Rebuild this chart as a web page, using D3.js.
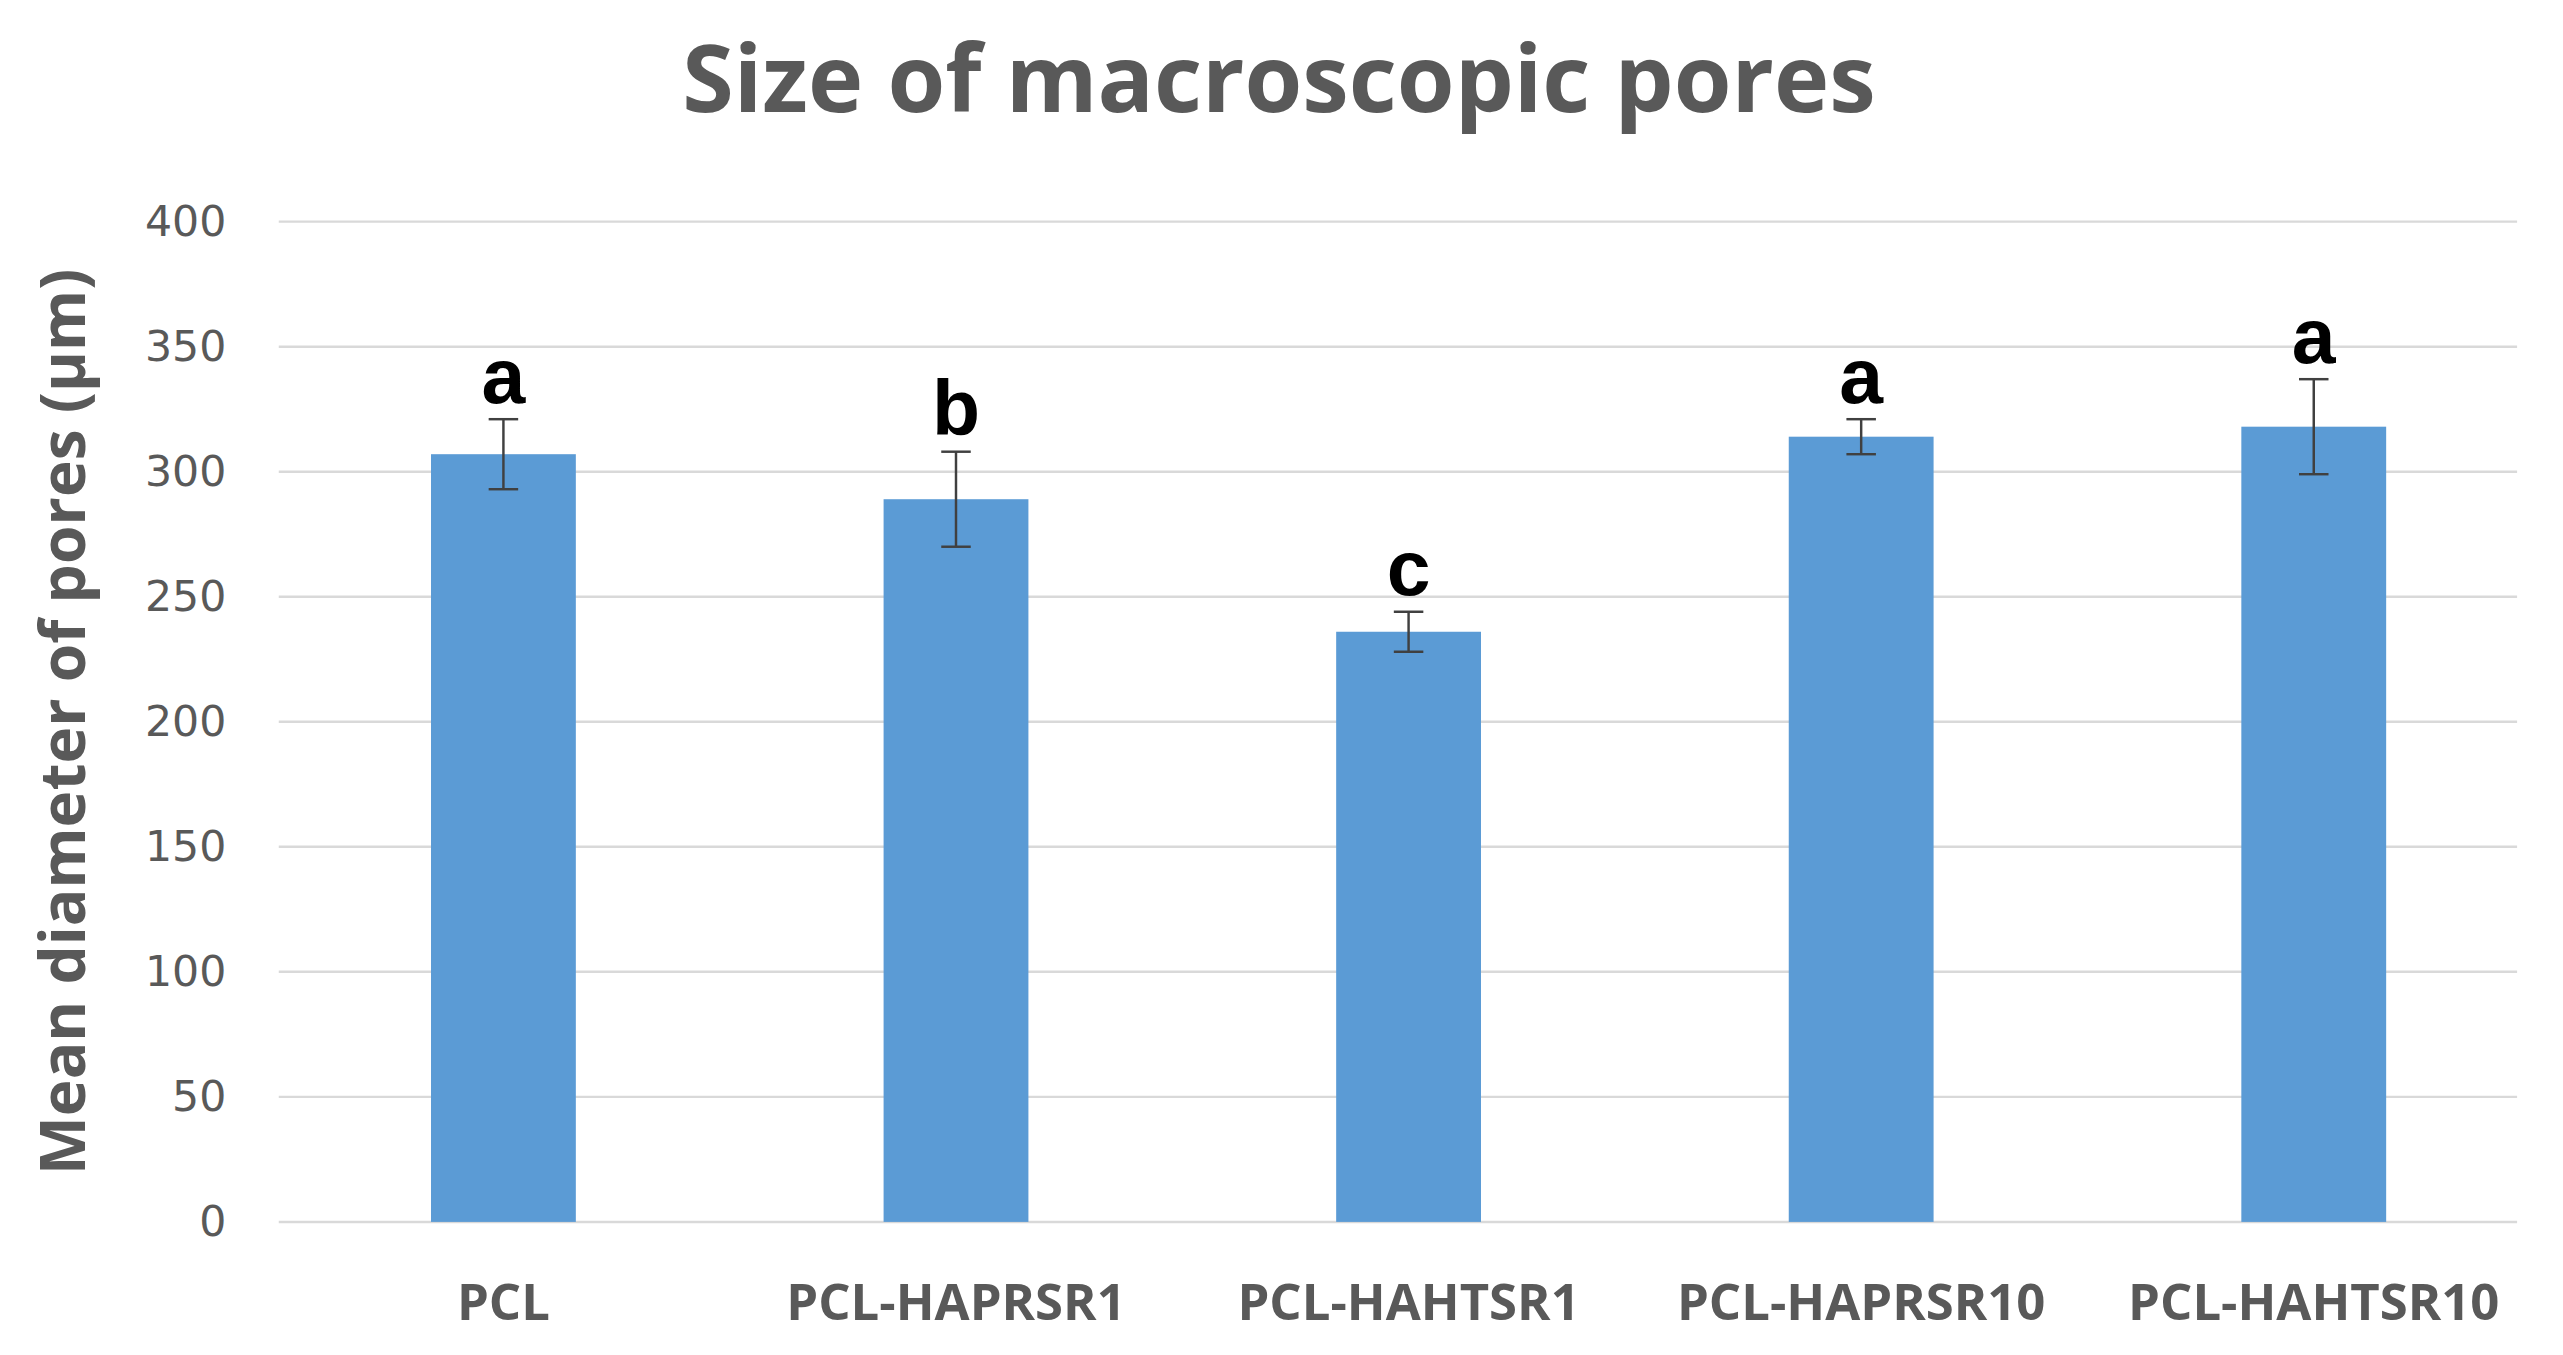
<!DOCTYPE html>
<html>
<head>
<meta charset="utf-8">
<script src="https://cdn.jsdelivr.net/npm/d3@7"></script>
<style>
  body { margin: 0; background: #fff; }
  svg { display: block; }
</style>
</head>
<body>
<svg id="chart"></svg>
<script>
// data
var categories = ['PCL', 'PCL-HAPRSR1', 'PCL-HAHTSR1', 'PCL-HAPRSR10', 'PCL-HAHTSR10'];
var means = [307, 289, 236, 314, 318];
var errors = [14, 19, 8, 7, 19];
var letters = ['a', 'b', 'c', 'a', 'a'];
var yTicks = [0, 50, 100, 150, 200, 250, 300, 350, 400];

var W = 1563, H = 826;
var margin = {left: 170, right: 28, top: 135, bottom: 81};

var svg = d3.select('#chart')
  .attr('width', 2563).attr('height', 1355)
  .attr('viewBox', '0 0 ' + W + ' ' + H);

var x = d3.scaleBand().domain(categories)
  .range([169, 1549]).paddingInner(0.68).paddingOuter(0.34);
var y = d3.scaleLinear().domain([0, 400]).range([H - margin.bottom, margin.top]);

// grid
svg.append('g').selectAll('line').data(yTicks).enter().append('line')
  .attr('x1', margin.left).attr('x2', W - margin.right)
  .attr('y1', function(d) { return y(d); }).attr('y2', function(d) { return y(d); })
  .attr('stroke', '#d9d9d9').attr('stroke-width', 1.5);

// y axis labels
var yAxis = d3.axisLeft(y).tickValues(yTicks).tickSize(0).tickPadding(32);
var gy = svg.append('g').attr('transform', 'translate(' + margin.left + ',0)').call(yAxis);
gy.select('.domain').remove();
gy.selectAll('text').attr('font-family', 'DejaVu Sans, sans-serif').attr('font-size', 26).attr('fill', '#595959');

// x axis labels
var xAxis = d3.axisBottom(x).tickSize(0).tickPadding(38);
var gx = svg.append('g').attr('transform', 'translate(0,' + y(0) + ')').call(xAxis);
gx.select('.domain').remove();
gx.selectAll('text').attr('font-family', 'Open Sans, sans-serif').attr('font-weight', 'bold')
  .attr('font-size', 31).attr('fill', '#595959');

var rows = categories.map(function(c, i) {
  return {c: c, v: means[i], e: errors[i], l: letters[i]};
});

// bars
svg.append('g').selectAll('rect').data(rows).enter().append('rect')
  .attr('x', function(d) { return x(d.c); })
  .attr('width', x.bandwidth())
  .attr('y', function(d) { return y(d.v); })
  .attr('height', function(d) { return y(0) - y(d.v); })
  .attr('fill', '#5b9bd5');

// error bars
var eb = svg.append('g').attr('stroke', '#404040').attr('stroke-width', 1.5);
rows.forEach(function(d) {
  var cx = x(d.c) + x.bandwidth() / 2;
  eb.append('line').attr('x1', cx).attr('x2', cx).attr('y1', y(d.v + d.e)).attr('y2', y(d.v - d.e));
  eb.append('line').attr('x1', cx - 9).attr('x2', cx + 9).attr('y1', y(d.v + d.e)).attr('y2', y(d.v + d.e));
  eb.append('line').attr('x1', cx - 9).attr('x2', cx + 9).attr('y1', y(d.v - d.e)).attr('y2', y(d.v - d.e));
});

// significance letters
svg.append('g').selectAll('text').data(rows).enter().append('text')
  .attr('x', function(d) { return x(d.c) + x.bandwidth() / 2; })
  .attr('y', function(d) { return y(d.v + d.e) - 10; })
  .attr('text-anchor', 'middle')
  .attr('font-family', 'Liberation Sans, Arial, sans-serif').attr('font-weight', 'bold')
  .attr('font-size', 48).attr('fill', '#000')
  .text(function(d) { return d.l; });

// title
svg.append('text').attr('x', 780).attr('y', 68).attr('text-anchor', 'middle')
  .attr('font-family', 'Open Sans, sans-serif').attr('font-weight', 'bold')
  .attr('font-size', 57).attr('fill', '#595959')
  .text('Size of macroscopic pores');

// y title
svg.append('text').attr('transform', 'translate(52,' + ((y(0) + y(400)) / 2) + ') rotate(-90)')
  .attr('text-anchor', 'middle')
  .attr('font-family', 'Open Sans, sans-serif').attr('font-weight', 'bold')
  .attr('font-size', 38).attr('fill', '#595959')
  .text('Mean diameter of pores (µm)');
</script>
</body>
</html>
